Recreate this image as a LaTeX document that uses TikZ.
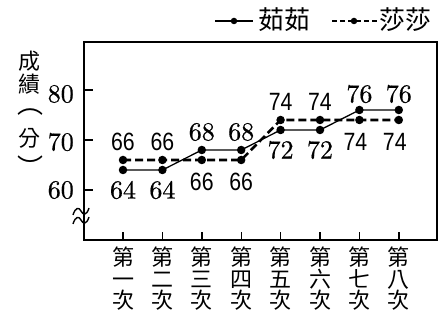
\documentclass[tikz,border=0pt]{standalone}
\usepackage{fontspec}
\newfontfamily\numserif[FakeBold=0.6]{lmroman10-regular.otf}
\newfontfamily\cjk{Noto Sans CJK TC}
\newfontfamily\numsans[FakeStretch=0.85]{Liberation Sans}
\begin{document}
\begin{tikzpicture}[x=1pt,y=-1pt,
  dot/.style={circle,fill,inner sep=0pt,minimum size=8.5pt},
  smalldot/.style={circle,fill,inner sep=0pt,minimum size=6.5pt},
  axisline/.style={line width=1.4pt},
  ruline/.style={line width=1.3pt},
  shaline/.style={line width=2.6pt,dash pattern=on 8pt off 4pt},
  legdash/.style={line width=1.3pt,dash pattern=on 5pt off 3pt},
  serifnum/.style={font=\numserif\fontsize{26}{26}\selectfont,inner sep=0pt},
  sansnum/.style={font=\numsans\fontsize{25}{25}\selectfont,inner sep=0pt},
  cjklab/.style={font=\cjk\fontsize{22}{22}\selectfont,inner sep=0pt},
  legtext/.style={font=\cjk\fontsize{26}{26}\selectfont,inner sep=0pt},
  parlab/.style={font=\cjk\fontsize{26}{26}\selectfont,inner sep=0pt},
  catlab/.style={font=\cjk\fontsize{22}{21.5}\selectfont,inner sep=0pt,align=center},
  breakline/.style={line width=1.4pt}
]
\useasboundingbox (0,0) rectangle (448,321);

% frame
\draw[axisline] (84,42) rectangle (437,240);

% y ticks and labels
\foreach \v/\y/\ly in {80/90/94,70/140/142,60/190/190}{
  \draw[axisline] (84,\y) -- (93,\y);
  \node[serifnum,anchor=east] (yl\v) at (74,\ly) {\v};
}

% axis break
\draw[breakline] (73,215) .. controls (75.5,207) and (79,207) .. (81,211) .. controls (83,215) and (86.5,216) .. (89,208);
\draw[breakline] (73,224) .. controls (75.5,216) and (79,216) .. (81,220) .. controls (83,224) and (86.5,225) .. (89,217);

% y-axis title
\node[cjklab] (t1) at (30,61) {成};
\node[cjklab] (t2) at (30,84) {績};
\node[parlab] (t3) at (30,112) {︵};
\node[cjklab] (t4) at (30,138) {分};
\node[parlab] (t5) at (30,166.5) {︶};

% x ticks and category labels
\foreach \i/\x/\c in {1/123/一,2/162.4/二,3/201.8/三,4/241.2/四,5/280.6/五,6/320/六,7/359.4/七,8/398.8/八}{
  \draw[axisline] (\x,240) -- (\x,232);
  \node[catlab] (c\i) at (\x,279) {第\\\c\\次};
}

% data points
\foreach \i/\x/\r/\s in {1/123/170/160,2/162.4/170/160,3/201.8/150/160,4/241.2/150/160,
                         5/280.6/130/120,6/320/130/120,7/359.4/110/120,8/398.8/110/120}{
  \node[dot] (r\i) at (\x,\r) {};
  \node[dot] (s\i) at (\x,\s) {};
}

\draw[ruline] (r1.center) -- (r2.center) -- (r3.center) -- (r4.center) -- (r5.center) -- (r6.center) -- (r7.center) -- (r8.center);
\draw[shaline] (s1.center) -- (s2.center) -- (s3.center) -- (s4.center) -- (s5.center) -- (s6.center) -- (s7.center) -- (s8.center);

% data labels
\path (s1) ++(0,-18) node[sansnum] (ls1) {66};
\path (s2) ++(0,-18) node[sansnum] (ls2) {66};
\path (r1) ++(0,20) node[serifnum] (lr1) {64};
\path (r2) ++(0,20) node[serifnum] (lr2) {64};
\path (r3) ++(0,-18) node[serifnum] (lr3) {68};
\path (r4) ++(0,-18) node[serifnum] (lr4) {68};
\path (s3) ++(0,22) node[sansnum] (ls3) {66};
\path (s4) ++(0,22) node[sansnum] (ls4) {66};
\path (s5) ++(0,-18) node[sansnum] (ls5) {74};
\path (s6) ++(0,-18) node[sansnum] (ls6) {74};
\path (r5) ++(0,20) node[serifnum] (lr5) {72};
\path (r6) ++(0,20) node[serifnum] (lr6) {72};
\path (r7) ++(0,-16) node[serifnum] (lr7) {76};
\path (r8) ++(0,-16) node[serifnum] (lr8) {76};
\path (s7) ++(-4,22) node[sansnum] (ls7) {74};
\path (s8) ++(-4,22) node[sansnum] (ls8) {74};

% legend
\coordinate (la) at (215,21);
\coordinate (lb) at (253,21);
\draw[ruline] (la) -- (lb);
\node[smalldot] (ld1) at (234,21) {};
\node[legtext] (lt1) at (284,20) {茹茹};
\coordinate (lc) at (332,21);
\coordinate (ld) at (377,21);
\draw[legdash] (lc) -- (ld);
\node[smalldot] (ld2) at (354,21) {};
\node[legtext] (lt2) at (405,20) {莎莎};
\end{tikzpicture}
\end{document}
